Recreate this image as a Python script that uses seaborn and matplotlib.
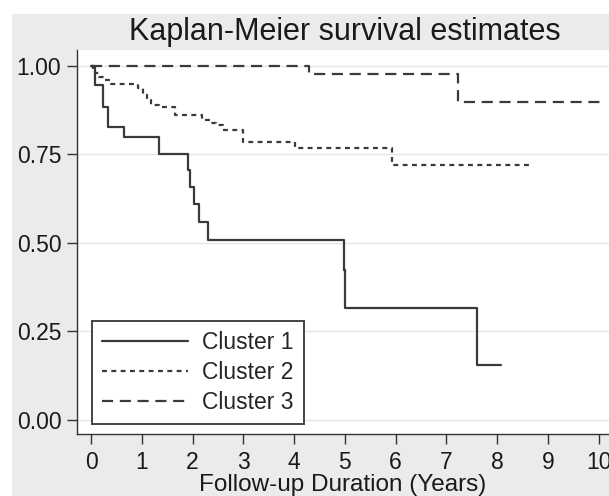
import matplotlib
matplotlib.use('Agg')
import matplotlib.pyplot as plt
import seaborn as sns
import pandas as pd

# step-function survival estimates
c1_time = [0, 0.08, 0.23, 0.33, 0.64, 1.33, 1.90, 1.95, 2.03, 2.13, 2.31, 4.98, 5.01, 7.60, 8.07]
c1_surv = [1.00, 0.946, 0.885, 0.828, 0.798, 0.751, 0.705, 0.658, 0.611, 0.559, 0.509, 0.422, 0.316, 0.156, 0.156]

c2_time = [0, 0.03, 0.08, 0.15, 0.25, 0.40, 0.93, 1.03, 1.10, 1.19, 1.33, 1.65, 2.18, 2.35, 2.47, 2.60, 3.00, 4.02, 5.92, 8.70]
c2_surv = [1.00, 0.99, 0.98, 0.97, 0.96, 0.95, 0.937, 0.918, 0.904, 0.89, 0.885, 0.861, 0.847, 0.840, 0.833, 0.819, 0.786, 0.769, 0.720, 0.720]

c3_time = [0, 4.30, 7.22, 10.08]
c3_surv = [1.00, 0.977, 0.897, 0.897]

labels = ['Cluster 1', 'Cluster 2', 'Cluster 3']
x_ticks = list(range(0, 11))
y_ticks = [0.0, 0.25, 0.5, 0.75, 1.0]

sns.set_theme(style='white')
plt.rcParams['font.family'] = ['Liberation Sans', 'DejaVu Sans']

line_col = '#3a3a3a'
styles = ['-', (0, (2.2, 2.0)), (0, (5, 3.0))]

fig = plt.figure(figsize=(6.09, 4.96), dpi=100)
fig.patch.set_facecolor('white')
# gray graph region (Stata style)
fig.patches.append(plt.Rectangle((12 / 609, 0), 1, 1 - 14 / 496, transform=fig.transFigure,
                                 facecolor='#ebebeb', edgecolor='none', zorder=-10))

ax = fig.add_axes([77 / 609, 62 / 496, 532 / 609, 384 / 496])
ax.set_facecolor('white')

for t, s, lab, ls in zip([c1_time, c2_time, c3_time], [c1_surv, c2_surv, c3_surv], labels, styles):
    df = pd.DataFrame({'time': t, 'surv': s})
    sns.lineplot(data=df, x='time', y='surv', drawstyle='steps-post', color=line_col,
                 linewidth=1.6, linestyle=ls, label=lab, ax=ax, sort=False)

ax.set_xlim(-0.276, 10.2)
ax.set_ylim(-0.04, 1.045)
ax.set_xticks(x_ticks)
ax.set_yticks(y_ticks)
ax.set_yticklabels([f'{v:.2f}' for v in y_ticks])
ax.yaxis.grid(True, color='#e6e6e6', linewidth=1.0)
ax.xaxis.grid(False)
ax.set_axisbelow(True)

for side in ['top', 'right']:
    ax.spines[side].set_visible(False)
for side in ['left', 'bottom']:
    ax.spines[side].set_color('#333333')
    ax.spines[side].set_linewidth(1.0)

ax.tick_params(axis='both', which='major', direction='out', length=7, width=1,
               color='#333333', labelsize=16.5, labelcolor='#1a1a1a',
               bottom=True, left=True)
ax.tick_params(axis='x', pad=5)
ax.tick_params(axis='y', pad=4.3)

ax.set_xlabel('Follow-up Duration (Years)', fontsize=17.5, color='#1a1a1a', labelpad=0)
ax.set_ylabel('')
fig.text(0.566, 1 - 32 / 496, 'Kaplan-Meier survival estimates', ha='center', va='center',
         fontsize=22, color='#1a1a1a')

leg = ax.legend(loc='lower left', bbox_to_anchor=(0.028, 0.026), borderaxespad=0,
                fontsize=16.5, handlelength=3.75, handletextpad=0.6, labelspacing=0.3,
                frameon=True, fancybox=False, borderpad=0.45)
leg.get_frame().set_edgecolor('#444444')
leg.get_frame().set_linewidth(1.4)
leg.get_frame().set_facecolor('white')
leg.get_frame().set_alpha(1)

fig.savefig('out.png', dpi=100, facecolor=fig.get_facecolor())
